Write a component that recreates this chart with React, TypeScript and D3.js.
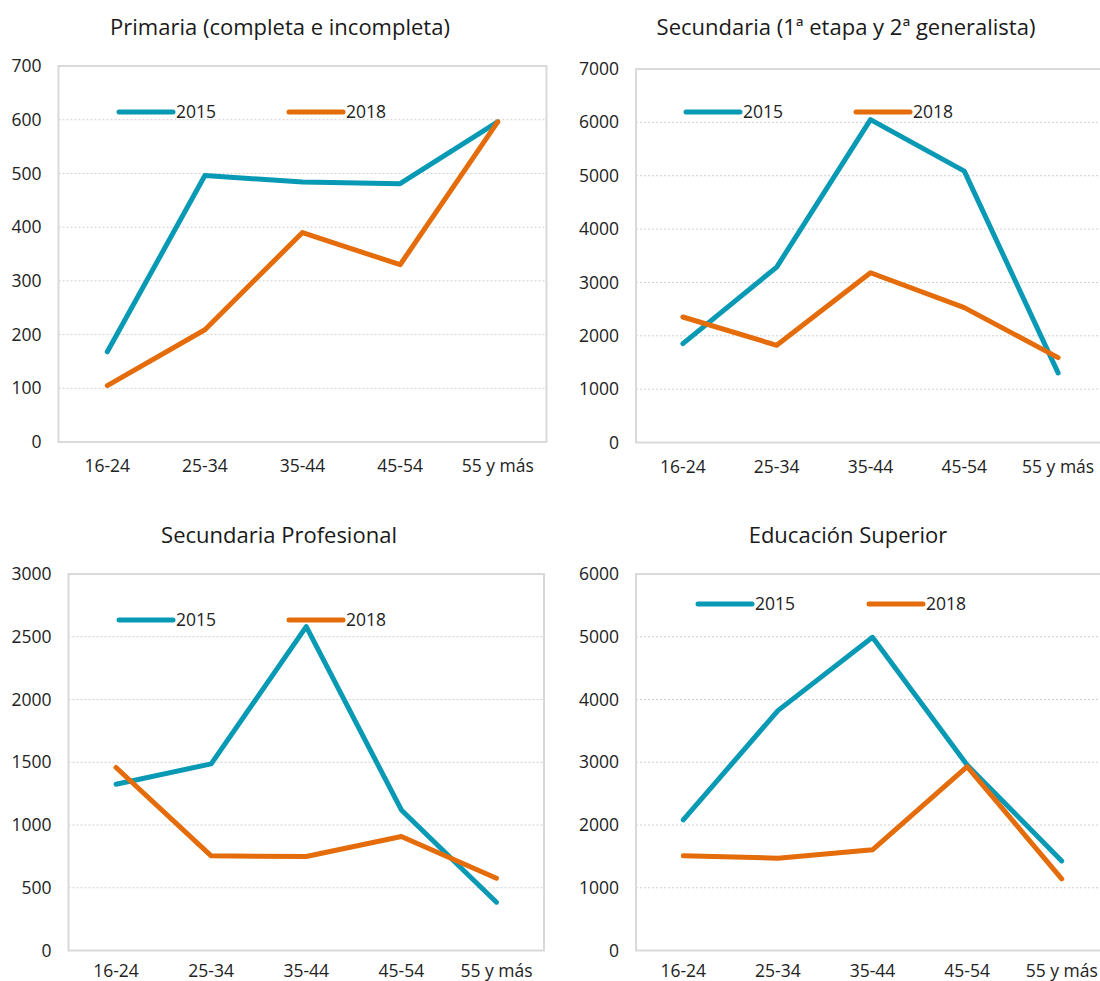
import React from "react";
import * as d3 from "d3";

const categories = ["16-24", "25-34", "35-44", "45-54", "55 y más"];
const seriesNames = ["2015", "2018"];

const primaria2015 = [168, 496, 484, 481, 596];
const primaria2018 = [105, 209, 390, 330, 596];
const secundaria2015 = [1853, 3288, 6052, 5085, 1304];
const secundaria2018 = [2352, 1822, 3182, 2527, 1591];
const profesional2015 = [1325, 1487, 2581, 1120, 385];
const profesional2018 = [1458, 754, 749, 908, 576];
const superior2015 = [2081, 3823, 4991, 2958, 1428];
const superior2018 = [1508, 1471, 1604, 2931, 1142];

const titles = [
  "Primaria (completa e incompleta)",
  "Secundaria (1ª etapa y 2ª generalista)",
  "Secundaria Profesional",
  "Educación Superior",
];
const yMaxes = [700, 7000, 3000, 6000];
const yStepsList = [100, 1000, 500, 1000];

const COLORS = ["#0899B4", "#E46C0A"];
const FONT = "'Open Sans', 'Noto Sans', sans-serif";

type Layout = {
  x0: number; x1: number; y0: number; y1: number;
  titleX: number; titleY: number; labelDy: number;
  leg: { x: number; y: number }[];
};

const layouts: Layout[] = [
  { x0: 58.5, x1: 546.5, y0: 66, y1: 442, titleX: 280, titleY: 35, labelDy: 30, leg: [{ x: 119, y: 112 }, { x: 289, y: 112 }] },
  { x0: 636, x1: 1105, y0: 69, y1: 442.5, titleX: 846, titleY: 35, labelDy: 30, leg: [{ x: 686, y: 112 }, { x: 856, y: 112 }] },
  { x0: 68.5, x1: 544, y0: 574, y1: 950.5, titleX: 279, titleY: 543, labelDy: 26, leg: [{ x: 119, y: 620 }, { x: 289, y: 620 }] },
  { x0: 636, x1: 1109, y0: 574, y1: 950.5, titleX: 848, titleY: 543, labelDy: 26, leg: [{ x: 698, y: 604 }, { x: 869, y: 604 }] },
];

const panelData = [
  [primaria2015, primaria2018],
  [secundaria2015, secundaria2018],
  [profesional2015, profesional2018],
  [superior2015, superior2018],
];

function Panel({ idx }: { idx: number }) {
  const L = layouts[idx];
  const x = d3.scaleBand<string>().domain(categories).range([L.x0, L.x1]);
  const y = d3.scaleLinear().domain([0, yMaxes[idx]]).range([L.y1, L.y0]);
  const ticks = d3.range(0, yMaxes[idx] + 1, yStepsList[idx]);
  const line = d3
    .line<number>()
    .x((_, i) => (x(categories[i]) as number) + x.bandwidth() / 2)
    .y((d) => y(d));
  return (
    <g>
      <text x={L.titleX} y={L.titleY} textAnchor="middle" fontSize={22} fill="#1a1a1a" fontFamily={FONT}>
        {titles[idx]}
      </text>
      {ticks.map((t) =>
        t > 0 && t < yMaxes[idx] ? (
          <line key={"g" + t} x1={L.x0} x2={L.x1} y1={y(t)} y2={y(t)} stroke="#cfcfcf" strokeWidth={1} strokeDasharray="2,2" />
        ) : null
      )}
      <rect x={L.x0} y={L.y0} width={L.x1 - L.x0} height={L.y1 - L.y0} fill="none" stroke="#d9d9d9" strokeWidth={2} />
      {ticks.map((t) => (
        <text key={"t" + t} x={L.x0 - 17} y={y(t)} dy="0.35em" textAnchor="end" fontSize={17.5} fill="#222" fontFamily={FONT}>
          {t}
        </text>
      ))}
      {categories.map((c) => (
        <text key={c} x={(x(c) as number) + x.bandwidth() / 2} y={L.y1 + L.labelDy} textAnchor="middle" fontSize={17.5} fill="#222" fontFamily={FONT}>
          {c}
        </text>
      ))}
      {panelData[idx].map((s, si) => (
        <path key={"s" + si} d={line(s) || ""} fill="none" stroke={COLORS[si]} strokeWidth={5} strokeLinejoin="round" strokeLinecap="round" />
      ))}
      {seriesNames.map((n, si) => (
        <g key={n}>
          <line x1={L.leg[si].x} x2={L.leg[si].x + 54} y1={L.leg[si].y} y2={L.leg[si].y} stroke={COLORS[si]} strokeWidth={5} strokeLinecap="round" />
          <text x={L.leg[si].x + 57} y={L.leg[si].y} dy="0.35em" fontSize={17.5} fill="#222" fontFamily={FONT}>
            {n}
          </text>
        </g>
      ))}
    </g>
  );
}

export default function App() {
  return (
    <svg width={1100} height={981} style={{ position: "absolute", left: 0, top: 0, background: "#fff" }}>
      <rect width={1100} height={981} fill="#fff" />
      {[0, 1, 2, 3].map((i) => (
        <Panel key={i} idx={i} />
      ))}
    </svg>
  );
}
